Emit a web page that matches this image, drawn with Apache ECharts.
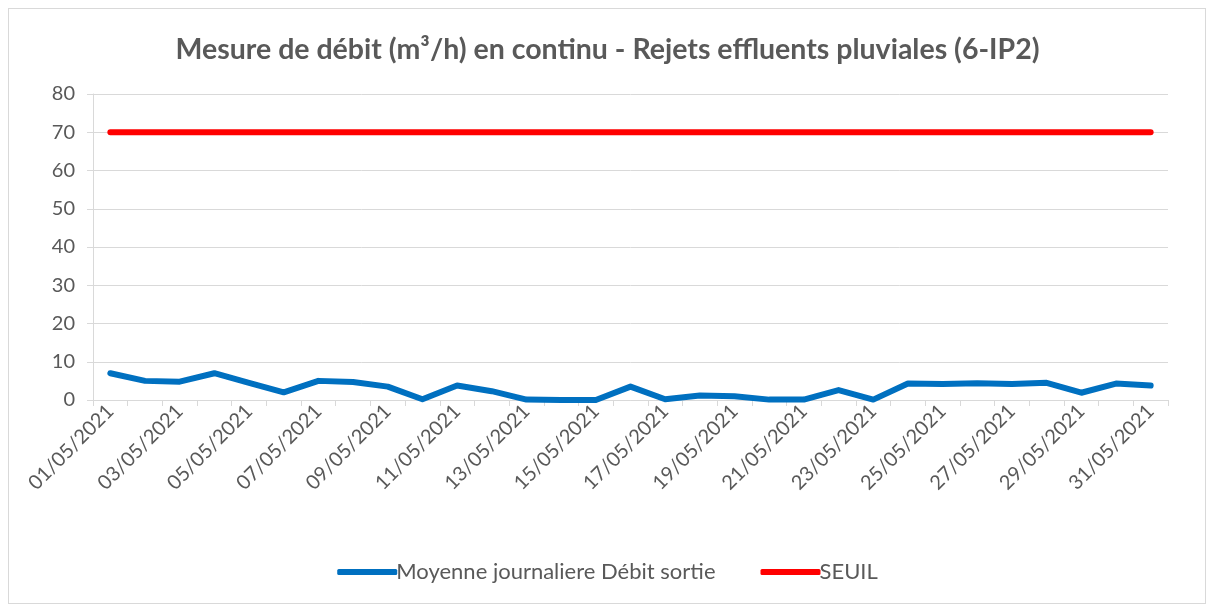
<!DOCTYPE html>
<html>
<head>
<meta charset="utf-8">
<script src="https://cdn.jsdelivr.net/npm/echarts@6/dist/echarts.min.js"></script>
<style>
  html, body { margin: 0; padding: 0; background: #fff; }
  #frame {
    position: absolute; left: 8px; top: 8px; width: 1198px; height: 596px;
    border: 1px solid #d9d9d9; box-sizing: border-box;
  }
  #chart { position: absolute; left: 0; top: 0; width: 1215px; height: 610px; }
</style>
</head>
<body>
<div id="frame"></div>
<div id="chart"></div>
<script>
// dates 01/05/2021 .. 31/05/2021
const days = [];
for (let d = 1; d <= 31; d++) days.push((d < 10 ? '0' + d : '' + d) + '/05/2021');

const debitSortie = [7.0, 5.0, 4.8, 7.0, 4.5, 2.0, 5.0, 4.7, 3.5, 0.2,
                     3.8, 2.3, 0.1, 0.0, 0.0, 3.5, 0.2, 1.2, 1.0, 0.1,
                     0.1, 2.6, 0.1, 4.3, 4.2, 4.4, 4.2, 4.5, 1.9, 4.3, 3.8];
const seuil = [70, 70, 70, 70, 70, 70, 70, 70, 70, 70,
               70, 70, 70, 70, 70, 70, 70, 70, 70, 70,
               70, 70, 70, 70, 70, 70, 70, 70, 70, 70, 70];

const textColor = '#595959';
const font = 'Lato, "Open Sans", sans-serif';

let option = {
  animation: false,
  textStyle: { fontFamily: font },
  title: {
    text: 'Mesure de débit (m³/h) en continu - Rejets effluents pluviales (6-IP2)',
    left: 'center',
    top: 30,
    textStyle: { fontSize: 28.5, fontWeight: 'bold', color: textColor, fontFamily: font }
  },
  legend: {
    bottom: 22,
    left: 'center',
    itemWidth: 60,
    itemHeight: 6,
    itemGap: 45,
    icon: 'roundRect',
    textStyle: { fontSize: 22, color: textColor, padding: [0, 0, 0, -6] },
    data: ['Moyenne journaliere Débit sortie', 'SEUIL']
  },
  grid: { left: 93, right: 47, top: 94, bottom: 210 },
  xAxis: {
    type: 'category',
    boundaryGap: true,
    data: days,
    axisLine: { lineStyle: { color: '#d9d9d9', width: 1 } },
    axisTick: { show: true, interval: 0, length: 6, lineStyle: { color: '#d9d9d9' } },
    axisLabel: { interval: 1, rotate: 45, fontSize: 20, color: textColor, margin: 8 }
  },
  yAxis: {
    type: 'value',
    min: 0,
    max: 80,
    interval: 10,
    axisLine: { show: true, lineStyle: { color: '#d9d9d9' } },
    axisTick: { show: true, length: 6, lineStyle: { color: '#d9d9d9' } },
    axisLabel: { fontSize: 20, color: textColor, margin: 18 },
    splitLine: { lineStyle: { color: '#d9d9d9' } }
  },
  series: [
    {
      name: 'Moyenne journaliere Débit sortie',
      type: 'line',
      data: debitSortie,
      symbol: 'none',
      color: '#0070c0',
      lineStyle: { width: 6, color: '#0070c0', cap: 'round', join: 'round' }
    },
    {
      name: 'SEUIL',
      type: 'line',
      data: seuil,
      symbol: 'none',
      color: '#ff0000',
      lineStyle: { width: 6, color: '#ff0000', cap: 'round' }
    }
  ]
};

let myChart = echarts.init(document.querySelector('#chart'));
myChart.setOption(option);
</script>
</body>
</html>
